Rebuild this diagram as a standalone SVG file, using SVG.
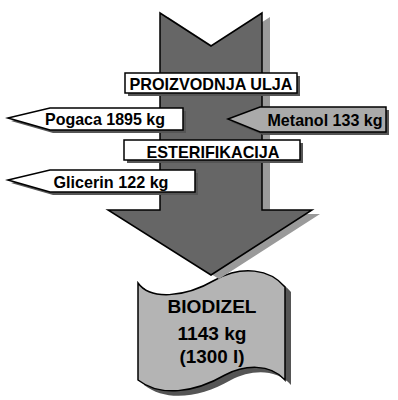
<svg xmlns="http://www.w3.org/2000/svg" width="398" height="400" viewBox="0 0 398 400">
<style>
.lbl{font-family:"Liberation Sans",Arial,sans-serif;font-weight:bold;fill:#000}
.box{fill:#fff;stroke:#000;stroke-width:1.5}
.shd{fill:#555}
</style>
<rect width="398" height="400" fill="#fff"/>
<g id="biodizel">
<path d="M144,288 C156,305 190,303 221,285 C248,270 276,274 291,292 L291,385 C276,368 250,370 231,380 C200,398 166,402 144,385 Z" fill="#555"/>
<path d="M138,283 C150,300 184,298 215,280 C242,265 270,269 285,287 L285,380 C270,363 244,365 225,375 C194,393 160,397 138,380 Z" fill="#b4b4b4" stroke="#000" stroke-width="1.5"/>
<text class="lbl" x="212" y="313" font-size="18" text-anchor="middle" textLength="89" lengthAdjust="spacingAndGlyphs">BIODIZEL</text>
<text class="lbl" x="212" y="340" font-size="18" text-anchor="middle" textLength="69" lengthAdjust="spacingAndGlyphs">1143 kg</text>
<text class="lbl" x="212" y="363" font-size="18" text-anchor="middle" textLength="65" lengthAdjust="spacingAndGlyphs">(1300 l)</text>
</g>
<g id="main-arrow">
<path d="M168,17 L219,50 L270,17 L270,214 L320,214 L219,279 L116,214 L168,214 Z" fill="#9a9a9a"/>
<path d="M160,13 L211,46 L262,13 L262,210 L312,210 L211,275 L108,210 L160,210 Z" fill="#666" stroke="#000" stroke-width="1.5" stroke-linejoin="miter"/>
</g>
<g id="proizvodnja">
<rect class="shd" x="128" y="76" width="172" height="20"/>
<rect class="box" x="125" y="73" width="172" height="20"/>
<text class="lbl" x="211" y="89.5" font-size="17" text-anchor="middle" textLength="163" lengthAdjust="spacingAndGlyphs">PROIZVODNJA ULJA</text>
</g>
<g id="esterifikacija">
<rect class="shd" x="127" y="143" width="176" height="20"/>
<rect class="box" x="124" y="140" width="176" height="20"/>
<text class="lbl" x="213" y="157.5" font-size="17" text-anchor="middle" textLength="133" lengthAdjust="spacingAndGlyphs">ESTERIFIKACIJA</text>
</g>
<g id="pogaca">
<path class="shd" d="M11,121 L53,111 L186,111 L186,133 L53,133 Z"/>
<path class="box" d="M8,118 L50,108 L183,108 L183,130 L50,130 Z"/>
<text class="lbl" x="105" y="125" font-size="17" text-anchor="middle" textLength="120" lengthAdjust="spacingAndGlyphs">Pogaca 1895 kg</text>
</g>
<g id="glicerin">
<path class="shd" d="M11,183 L53,173 L198,173 L198,195 L53,195 Z"/>
<path class="box" d="M8,180 L50,170 L195,170 L195,192 L50,192 Z"/>
<text class="lbl" x="111" y="187.5" font-size="17" text-anchor="middle" textLength="115" lengthAdjust="spacingAndGlyphs">Glicerin 122 kg</text>
</g>
<g id="metanol">
<path class="shd" d="M231,122 L263,110 L389,110 L389,135 L263,135 Z"/>
<path d="M228,119 L260,107 L386,107 L386,132 L260,132 Z" fill="#aaa" stroke="#000" stroke-width="1.5"/>
<text class="lbl" x="325" y="126" font-size="17" text-anchor="middle" textLength="115" lengthAdjust="spacingAndGlyphs">Metanol 133 kg</text>
</g>
<g id="connectors"></g>
</svg>
